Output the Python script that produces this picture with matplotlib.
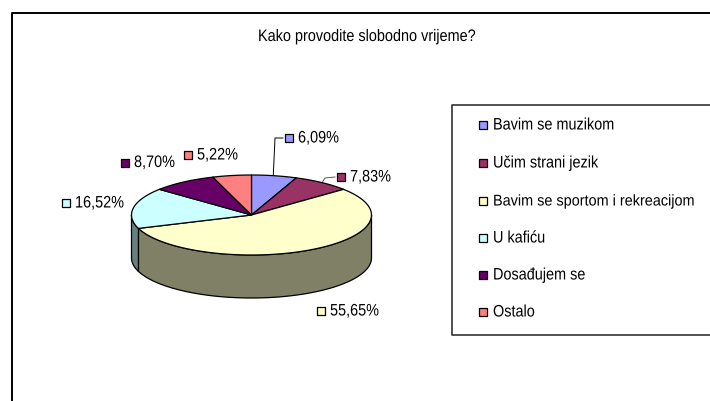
import matplotlib
matplotlib.use('Agg')
import matplotlib.pyplot as plt
from matplotlib.patheffects import AbstractPathEffect
from matplotlib.transforms import Affine2D
import numpy as np

plt.rcParams['font.family'] = ['Liberation Sans', 'DejaVu Sans']

title = 'Kako provodite slobodno vrijeme?'
categories = ['Bavim se muzikom', 'Učim strani jezik', 'Bavim se sportom i rekreacijom',
              'U kafiću', 'Dosađujem se', 'Ostalo']
values = [6.09, 7.83, 55.65, 16.52, 8.70, 5.22]
value_labels = ['6,09%', '7,83%', '55,65%', '16,52%', '8,70%', '5,22%']
colors = ['#9999FF', '#993366', '#FFFFCC', '#CCFFFF', '#660066', '#FF8080']
side_colors = ['#4D4D80', '#4D1A33', '#808066', '#668080', '#330033', '#804040']

# pie geometry, in pixels of the 710x401 picture
cx, cy = 251.5, 215
rx, ry = 120, 40
depth = 43

# where each percentage label sits (marker x, text centre y)
label_pos = [(289, 138), (341, 177), (321, 311), (66, 203), (125, 162.5), (188, 155)]


class Narrow(AbstractPathEffect):
    # the reference text is tall and narrow, squeeze the glyphs sideways
    def __init__(self, sx):
        super().__init__()
        self.sx = sx

    def draw_path(self, renderer, gc, tpath, affine, rgbFace=None):
        renderer.draw_path(gc, tpath, Affine2D().scale(self.sx, 1) + affine, rgbFace)


def put_text(x, y, s, size=12, zorder=4):
    # same drawn width whatever the size: 0.867 of natural width at 12 pt
    ax.text(x, y, s, fontsize=size, ha='left', va='center', color='black',
            path_effects=[Narrow(0.867 * 12 / size)], zorder=zorder)


fig = plt.figure(figsize=(7.10, 4.01), dpi=100)
ax = fig.add_axes([0, 0, 1, 1])
ax.set_xlim(0, 710)
ax.set_ylim(401, 0)
ax.axis('off')


def rim(a, b, n=80):
    t = np.radians(np.linspace(a, b, n))
    return cx + rx * np.sin(t), cy - ry * np.cos(t)


# chart frame, open on the right and bottom
ax.plot([11.5, 11.5, 710], [401, 12.5, 12.5], color='black', lw=1.4, solid_capstyle='butt')

put_text(258, 36.5, title)

# slices: angles run clockwise from 12 o'clock
edges = np.cumsum([0] + values) / sum(values) * 360

# side wall, only the front half of the rim shows
for i in range(len(values)):
    a = max(edges[i], 90)
    b = min(edges[i + 1], 270)
    if a >= b:
        continue
    x, y = rim(a, b)
    ax.fill(np.r_[x, x[::-1]], np.r_[y, y[::-1] + depth], facecolor=side_colors[i],
            edgecolor='black', lw=0.9, zorder=2, joinstyle='round')

for i in range(len(values)):
    x, y = rim(edges[i], edges[i + 1])
    ax.fill(np.r_[cx, x], np.r_[cy, y], facecolor=colors[i], edgecolor='black', lw=0.9,
            zorder=3, joinstyle='round')

# leader lines from the small slices to their labels
mid = np.radians((edges[0] + edges[1]) / 2)
lx, ly = cx + rx * np.sin(mid), cy - ry * np.cos(mid)
ax.plot([lx - 1, 275, 283], [ly - 1, 138, 138], color='black', lw=0.7, zorder=1)
mid = np.radians((edges[1] + edges[2]) / 2)
lx, ly = cx + rx * np.sin(mid), cy - ry * np.cos(mid)
ax.plot([lx, 325, 335], [ly, 178, 177], color='#555555', lw=0.7, zorder=1)

# percentage labels with their colour keys
for (mx, my), lab, col in zip(label_pos, value_labels, colors):
    ax.scatter([mx], [my], marker='s', s=40, facecolor=col, edgecolor='black', lw=0.9, zorder=4)
    put_text(mx + 9, my, lab)

# legend box runs off the right edge
ax.plot([710, 452, 452, 710], [105, 105, 335, 335], color='#333333', lw=1.2, solid_capstyle='butt')
legend_ys = [125, 163, 201, 238, 275, 312]
for name, col, ly in zip(categories, colors, legend_ys):
    ax.scatter([483], [ly], marker='s', s=40, facecolor=col, edgecolor='black', lw=0.9, zorder=4)
    # the long line gets a slightly smaller size so its natural box stays inside the picture
    put_text(493, ly, name, size=11.2 if len(name) > 25 else 12)

fig.savefig('out.png', dpi=100)
